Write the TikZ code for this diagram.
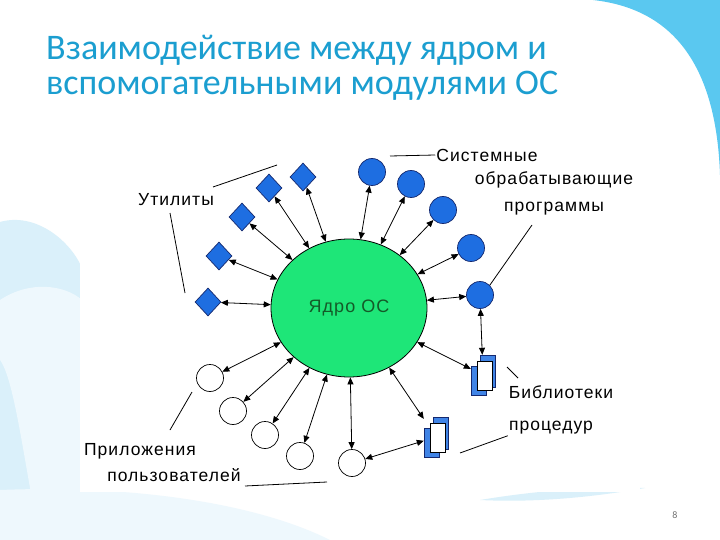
\documentclass[tikz,border=0pt]{standalone}
\usepackage{fontspec}
\setmainfont{Carlito}
\newfontfamily\lblfont[LetterSpace=6]{Liberation Sans}
\usetikzlibrary{shapes.geometric,arrows.meta}

\definecolor{titleblue}{RGB}{27,158,208}
\definecolor{cornerblue}{RGB}{90,200,240}
\definecolor{swirlblue}{RGB}{218,240,250}
\definecolor{swirlpale}{RGB}{238,248,253}
\definecolor{modblue}{RGB}{30,110,225}
\definecolor{modedge}{RGB}{20,40,110}
\definecolor{coregreen}{RGB}{30,230,120}
\definecolor{coretext}{RGB}{20,90,40}

\tikzset{
  util/.style={diamond, draw=modedge, fill=modblue, line width=0.7pt,
    minimum width=26pt, minimum height=28pt, inner sep=0pt},
  sysprog/.style={circle, draw=modedge, fill=modblue, line width=0.7pt,
    minimum size=27pt, inner sep=0pt},
  userapp/.style={circle, draw=black, fill=white, line width=0.7pt,
    minimum size=27pt, inner sep=0pt},
  libbox/.style={rectangle, minimum width=24pt, minimum height=40pt, inner sep=0pt},
  libpage/.style={draw=modedge, fill=modblue!85!white, line width=0.6pt},
  libfront/.style={draw=black, fill=white, line width=0.6pt},
  link/.style={<->, >={Triangle[length=7pt,width=6pt]}, line width=0.8pt},
  leader/.style={line width=0.8pt},
  lbl/.style={font=\lblfont\fontsize{17.5}{20}\selectfont, inner sep=1pt}
}

% stack of pages for a library node
\newcommand\libpages[1]{%
  \draw[libpage] ([shift={(-12,-9)}]#1.center) rectangle ([shift={(3,20)}]#1.center);
  \draw[libpage] ([shift={(-3,-20)}]#1.center) rectangle ([shift={(12,12)}]#1.center);
  \draw[libfront] ([shift={(-6,-14)}]#1.center) rectangle ([shift={(9,15)}]#1.center);
}

\begin{document}
\begin{tikzpicture}[x=1pt, y=-1pt]
    \useasboundingbox (0,0) rectangle (720,540);
    \fill[white] (0,0) rectangle (720,540);

    % slide background
    \fill[cornerblue] (593,0) .. controls (665,8) and (716,55) .. (720,175) -- (720,0) -- cycle;
    \fill[swirlblue] (0,222) .. controls (35,212) and (70,240) .. (82,268) -- (82,540) -- (0,540) -- cycle;
    \fill[swirlpale] (0,300) .. controls (30,280) and (65,285) .. (82,300) -- (82,540) -- (40,540)
        .. controls (25,470) and (15,380) .. (0,360) -- cycle;
    \fill[swirlpale] (0,490) .. controls (120,485) and (250,500) .. (330,540) -- (0,540) -- cycle;
    \fill[swirlblue] (480,500) .. controls (540,490) and (600,486) .. (645,488)
        .. controls (600,496) and (540,503) .. (480,500) -- cycle;

    % diagram area
    \fill[white] (80,130) rectangle (640,492);

    \node[anchor=north west, align=left, text=titleblue, inner sep=0pt,
          font=\fontsize{36}{35}\selectfont] (title) at (46,35)
        {Взаимодействие между ядром и\\вспомогательными модулями ОС};
    \node[text=black!55, font=\fontsize{10}{12}\selectfont] (page) at (675,515) {8};

    % kernel
    \node[ellipse, draw=black, fill=coregreen, line width=0.8pt, minimum width=156pt,
          minimum height=138pt, text=coretext, font=\lblfont\fontsize{18}{20}\selectfont]
        (core) at (349,308) {Ядро ОС};

    % utilities
    \node[util] (u1) at (208,302) {};
    \node[util] (u2) at (219,256) {};
    \node[util] (u3) at (242,217) {};
    \node[util] (u4) at (269,188) {};
    \node[util] (u5) at (303,177) {};

    % system programs
    \node[sysprog] (s1) at (372,172) {};
    \node[sysprog] (s2) at (411,184) {};
    \node[sysprog] (s3) at (443,210) {};
    \node[sysprog] (s4) at (471,248) {};
    \node[sysprog] (s5) at (480,295) {};

    % user applications
    \node[userapp] (a1) at (210,378) {};
    \node[userapp] (a2) at (233,411) {};
    \node[userapp] (a3) at (265,435) {};
    \node[userapp] (a4) at (300,456) {};
    \node[userapp] (a5) at (352,463) {};

    % libraries
    \node[libbox] (l1) at (483,375) {};
    \node[libbox] (l2) at (436,437) {};
    \libpages{l1}
    \libpages{l2}

    % links to the kernel
    \foreach \m in {u1,u2,u3,u4,u5,s1,s2,s3,s4,s5,a1,a2,a3,a4,a5,l1,l2}
        \draw[link] (core) -- (\m);
    \draw[link] (s5) -- (l1);
    \draw[link] (a5) -- (l2);

    % labels
    \node[lbl] (lsys)  at (487,155) {Системные};
    \node[lbl] (lproc) at (554,180) {обрабатывающие};
    \node[lbl] (lprog) at (554,209) {программы};
    \node[lbl] (lutil) at (176,200) {Утилиты};
    \node[lbl] (llib)  at (561,392) {Библиотеки};
    \node[lbl] (lsub)  at (551,428) {процедур};
    \node[lbl] (lapp)  at (140,451) {Приложения};
    \node[lbl] (luser) at (174,475) {пользователей};

    % leader lines
    \coordinate (sysend)   at (390,156);
    \coordinate (progbeg)  at (532,225);
    \coordinate (utilend1) at (277,165);
    \coordinate (utilbeg1) at (213,187);
    \coordinate (utilbeg2) at (170,213);
    \coordinate (utilend2) at (185,293);
    \coordinate (append)   at (192,392);
    \coordinate (appbeg)   at (170,430);
    \coordinate (userbeg)  at (245,486);
    \coordinate (userend)  at (327,482);
    \coordinate (libbeg)   at (507,367);
    \coordinate (libend)   at (518,378);
    \coordinate (subend)   at (460,453);

    \draw[leader] (lsys.west) -- (sysend);
    \draw[leader] (progbeg) -- (s5.north east);
    \draw[leader] (utilbeg1) -- (utilend1);
    \draw[leader] (utilbeg2) -- (utilend2);
    \draw[leader] (appbeg) -- (append);
    \draw[leader] (userbeg) -- (userend);
    \draw[leader] (libbeg) -- (libend);
    \draw[leader] (lsub.south west) -- (subend);
\end{tikzpicture}
\end{document}
